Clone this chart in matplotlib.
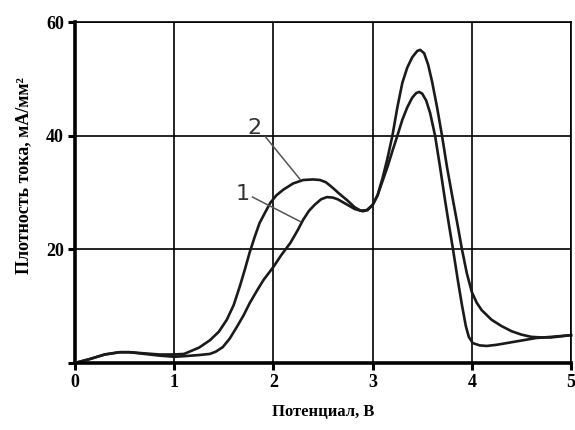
"""Анодные поляризационные кривые: плотность тока от потенциала (кривые 1 и 2)."""

import matplotlib
matplotlib.use("Agg")
import matplotlib.pyplot as plt

# кривая 1: ниже на плече, выше пик
pot_1 = [0, 0.15, 0.3, 0.45, 0.55, 0.7, 0.85, 1.0, 1.1, 1.25, 1.36, 1.42, 1.49,
         1.56, 1.63, 1.7, 1.76, 1.83, 1.9, 2.0, 2.08, 2.17, 2.24, 2.3, 2.36,
         2.42, 2.48, 2.54, 2.6, 2.65, 2.7, 2.75, 2.82, 2.9, 2.95, 3.0, 3.05,
         3.1, 3.15, 3.2, 3.25, 3.3, 3.35, 3.4, 3.45, 3.48, 3.52, 3.56, 3.6,
         3.65, 3.7, 3.75, 3.81, 3.86, 3.9, 3.95, 4.0, 4.05, 4.1, 4.2, 4.3, 4.4,
         4.5, 4.6, 4.7, 4.8, 4.9, 5.0]
dens_1 = [0, 0.7, 1.5, 1.9, 1.9, 1.6, 1.3, 1.1, 1.2, 1.4, 1.6, 2.0, 2.8,
          4.3, 6.3, 8.4, 10.5, 12.6, 14.6, 16.9, 19.0, 21.1, 23.2, 25.2, 26.8,
          27.9, 28.8, 29.2, 29.1, 28.8, 28.3, 27.8, 27.1, 26.7, 26.9, 27.8, 29.5,
          32.5, 36.0, 40.0, 45.0, 49.3, 52.0, 53.8, 54.9, 55.1, 54.5, 52.5, 49.5,
          45.0, 40.0, 34.5, 28.7, 24.0, 20.1, 15.8, 12.5, 10.6, 9.3, 7.6, 6.5, 5.6,
          5.0, 4.6, 4.5, 4.5, 4.7, 4.9]

# кривая 2: выше на плече, ниже пик
pot_2 = [0, 0.15, 0.3, 0.45, 0.55, 0.7, 0.85, 1.0, 1.1, 1.25, 1.36, 1.45, 1.53,
         1.6, 1.66, 1.71, 1.76, 1.81, 1.86, 1.92, 1.97, 2.03, 2.1, 2.2, 2.3,
         2.4, 2.47, 2.53, 2.6, 2.67, 2.74, 2.82, 2.88, 2.94, 3.0, 3.05, 3.1,
         3.15, 3.2, 3.25, 3.3, 3.35, 3.4, 3.44, 3.47, 3.5, 3.54, 3.58, 3.63,
         3.68, 3.73, 3.77, 3.81, 3.86, 3.9, 3.94, 3.97, 4.01, 4.08, 4.15, 4.25,
         4.35, 4.45, 4.55, 4.65, 4.8, 4.9, 5.0]
dens_2 = [0, 0.7, 1.5, 1.9, 1.9, 1.7, 1.5, 1.5, 1.6, 2.7, 4.0, 5.5, 7.6,
          10.2, 13.4, 16.3, 19.4, 22.1, 24.6, 26.6, 28.2, 29.5, 30.5, 31.6, 32.2,
          32.3, 32.2, 31.8, 30.8, 29.7, 28.7, 27.4, 26.8, 26.9, 27.8, 29.5, 32.0,
          34.5, 37.3, 40.0, 42.8, 45.0, 46.7, 47.5, 47.7, 47.4, 46.2, 44.0, 40.0,
          34.5, 28.7, 24.3, 20.1, 14.5, 10.3, 6.5, 4.6, 3.5, 3.1, 3.0, 3.2,
          3.5, 3.8, 4.1, 4.4, 4.6, 4.75, 4.9]

x_ticks = [0, 1, 2, 3, 4, 5]
y_ticks = [0, 20, 40, 60]
y_tick_labels = ["", "20", "40", "60"]

serif_bold = dict(family="Liberation Serif", fontweight="bold")

fig = plt.figure(figsize=(5.75, 4.3), dpi=100)
ax = fig.add_axes([0.1304, 0.1558, 0.8626, 0.793])

ax.set_xlim(0, 5)
ax.set_ylim(0, 60)

ax.set_xticks(x_ticks)
ax.set_yticks(y_ticks)
ax.set_xticklabels([str(t) for t in x_ticks], fontsize=13, **serif_bold)
ax.set_yticklabels(y_tick_labels, fontsize=13, **serif_bold)
ax.tick_params(axis="both", direction="out", length=5, width=2.2, color="black", pad=3)

ax.grid(True, color="black", linewidth=1.2)
ax.set_axisbelow(True)

for side in ("left", "bottom"):
    ax.spines[side].set_linewidth(2.6)
for side in ("top", "right"):
    ax.spines[side].set_linewidth(1.2)

ax.plot(pot_1, dens_1, color="#1a1a1a", linewidth=1.9, solid_joinstyle="round", clip_on=False)
ax.plot(pot_2, dens_2, color="#1a1a1a", linewidth=1.9, solid_joinstyle="round", clip_on=False)

# номера кривых с выносками
ax.plot([1.92, 2.27], [39.8, 32.3], color="#555555", linewidth=1.1)
ax.plot([1.79, 2.27], [29.2, 24.9], color="#555555", linewidth=1.1)
ax.text(1.81, 41.3, "2", fontsize=16, color="#333333", ha="center", va="center")
ax.text(1.69, 29.8, "1", fontsize=16, color="#333333", ha="center", va="center")

ax.set_xlabel("Потенциал, В", fontsize=12, **serif_bold)
ax.set_ylabel("Плотность тока, мА/мм²", fontsize=13, **serif_bold)
ax.xaxis.set_label_coords(0.5, -0.12)
ax.yaxis.set_label_coords(-0.087, 0.55)

fig.savefig("out.png", dpi=100)
